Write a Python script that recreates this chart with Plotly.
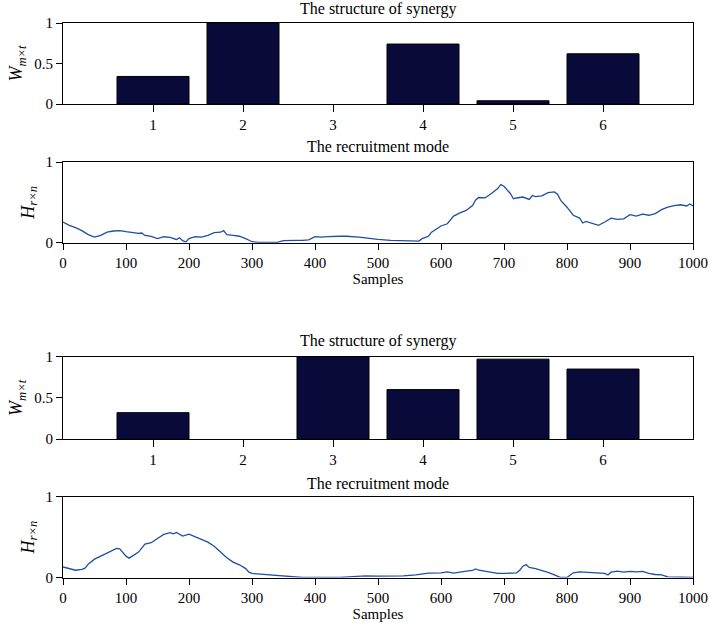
import plotly.graph_objects as go

# synergy structure (bars)
synergies = [1, 2, 3, 4, 5, 6]
w_top = [0.34, 1.0, 0.0, 0.74, 0.04, 0.62]
w_bottom = [0.32, 0.0, 1.0, 0.60, 0.97, 0.85]

# recruitment mode (lines)
h_top_x = [0, 10, 20, 30, 40, 50, 60, 70, 80, 90, 100, 110, 120, 125, 130, 140, 150, 160, 170,
           180, 185, 190, 195, 200, 210, 220, 230, 240, 250, 255, 260, 270, 280, 290, 300, 310,
           320, 330, 340, 350, 360, 370, 380, 390, 400, 410, 420, 430, 440, 450, 460, 470, 480,
           490, 500, 520, 540, 550, 560, 565, 570, 580, 585, 590, 600, 610, 615, 620, 630, 640,
           650, 655, 660, 670, 680, 690, 695, 700, 710, 715, 720, 730, 740, 745, 750, 760, 770,
           780, 785, 790, 800, 810, 820, 825, 830, 840, 850, 860, 870, 880, 890, 900, 910, 920,
           930, 940, 950, 960, 970, 980, 990, 995, 1000]
h_top_y = [0.256, 0.215, 0.186, 0.15, 0.10, 0.07, 0.09, 0.13, 0.145, 0.15, 0.136, 0.124, 0.116,
           0.12, 0.09, 0.078, 0.05, 0.074, 0.066, 0.04, 0.06, 0.025, 0.01, 0.05, 0.074, 0.07,
           0.09, 0.124, 0.13, 0.15, 0.10, 0.09, 0.08, 0.05, 0.012, 0.004, 0.004, 0.012, 0.004,
           0.025, 0.03, 0.03, 0.03, 0.035, 0.075, 0.07, 0.075, 0.08, 0.08, 0.08, 0.078, 0.07,
           0.06, 0.05, 0.04, 0.03, 0.025, 0.03, 0.02, 0.02, 0.05, 0.08, 0.13, 0.157, 0.207,
           0.235, 0.29, 0.33, 0.37, 0.40, 0.46, 0.53, 0.56, 0.555, 0.61, 0.67, 0.72, 0.70, 0.61,
           0.545, 0.554, 0.566, 0.537, 0.585, 0.57, 0.58, 0.62, 0.63, 0.60, 0.525, 0.44, 0.34,
           0.305, 0.244, 0.264, 0.24, 0.215, 0.256, 0.305, 0.29, 0.295, 0.347, 0.33, 0.355, 0.34,
           0.36, 0.41, 0.44, 0.46, 0.47, 0.455, 0.48, 0.455]

h_bot_x = [0, 10, 20, 30, 35, 40, 50, 60, 70, 80, 85, 90, 100, 105, 110, 120, 130, 140, 150, 160,
           170, 175, 180, 190, 200, 210, 220, 230, 240, 250, 260, 270, 280, 290, 295, 300, 320,
           340, 360, 380, 400, 420, 440, 460, 480, 500, 520, 540, 560, 580, 600, 610, 620, 630,
           640, 650, 655, 660, 670, 680, 690, 700, 710, 720, 725, 730, 735, 740, 750, 760, 770,
           780, 790, 800, 810, 820, 830, 840, 850, 860, 865, 870, 880, 890, 900, 910, 920, 930,
           940, 950, 960, 970, 980, 1000]
h_bot_y = [0.13, 0.107, 0.09, 0.10, 0.115, 0.165, 0.227, 0.264, 0.305, 0.34, 0.36, 0.355, 0.264,
           0.24, 0.264, 0.314, 0.413, 0.43, 0.483, 0.533, 0.554, 0.54, 0.558, 0.512, 0.537,
           0.504, 0.48, 0.438, 0.388, 0.314, 0.244, 0.19, 0.157, 0.11, 0.066, 0.05, 0.037, 0.02,
           0.012, 0.0, 0.0, 0.0, 0.0, 0.012, 0.02, 0.016, 0.016, 0.02, 0.033, 0.054, 0.058, 0.07,
           0.054, 0.07, 0.08, 0.087, 0.107, 0.09, 0.074, 0.066, 0.05, 0.05, 0.05, 0.058, 0.09,
           0.14, 0.16, 0.124, 0.11, 0.09, 0.062, 0.033, 0.0, 0.0, 0.058, 0.07, 0.066, 0.058,
           0.05, 0.05, 0.03, 0.066, 0.08, 0.066, 0.075, 0.07, 0.075, 0.05, 0.037, 0.033, 0.008,
           0.004, 0.0, 0.0]

FONT = "Liberation Serif"
BAR_COLOR = "#0a0a3a"
LINE_COLOR = "#1f4fa3"
W_TITLE = "<i>W</i><sub><i>m×t</i></sub>"
H_TITLE = "<i>H</i><sub><i>r×n</i></sub>"

def bar_marker(vals):
    # no outline on empty bars, so nothing shows above the axis there
    return dict(color=BAR_COLOR, line=dict(color="black", width=[1 if v > 0 else 0 for v in vals]))

fig = go.Figure()
fig.add_trace(go.Bar(x=synergies, y=w_top, width=0.8, marker=bar_marker(w_top),
                     xaxis="x", yaxis="y"))
fig.add_trace(go.Scatter(x=h_top_x, y=h_top_y, mode="lines", line=dict(color=LINE_COLOR, width=1.3),
                         xaxis="x2", yaxis="y2"))
fig.add_trace(go.Bar(x=synergies, y=w_bottom, width=0.8, marker=bar_marker(w_bottom),
                     xaxis="x3", yaxis="y3"))
fig.add_trace(go.Scatter(x=h_bot_x, y=h_bot_y, mode="lines", line=dict(color=LINE_COLOR, width=1.3),
                         xaxis="x4", yaxis="y4"))

xdom = [63 / 709, 693 / 709]
def ydom(top, bottom):
    return [(623 - bottom) / 623, (623 - top) / 623]

common = dict(showline=True, linecolor="black", linewidth=1, mirror=True, showgrid=False,
              zeroline=False, ticks="outside", ticklen=6, tickcolor="black", automargin=False,
              tickfont=dict(family=FONT, size=15, color="black"))

bar_x = dict(common, range=[0, 7], tickvals=synergies, domain=xdom, ticklen=7)
line_x = dict(common, range=[0, 1000], tickvals=list(range(0, 1001, 100)), domain=xdom,
              title=dict(text="Samples", font=dict(family=FONT, size=15, color="black"), standoff=2))
bar_y = dict(common, range=[0, 1], tickvals=[0, 0.5, 1],
             title=dict(text=W_TITLE, font=dict(family=FONT, size=18, color="black"), standoff=6))
line_y = dict(common, range=[0, 1], tickvals=[0, 1],
              title=dict(text=H_TITLE, font=dict(family=FONT, size=18, color="black"), standoff=6))

fig.update_layout(
    width=709, height=623, margin=dict(l=0, r=0, t=0, b=0),
    paper_bgcolor="white", plot_bgcolor="white", showlegend=False,
    font=dict(family=FONT, size=15, color="black"),
    xaxis=dict(bar_x, anchor="y"),
    yaxis=dict(bar_y, domain=ydom(23, 104), anchor="x"),
    xaxis2=dict(line_x, anchor="y2"),
    yaxis2=dict(line_y, domain=ydom(162, 242.7), anchor="x2"),
    xaxis3=dict(bar_x, anchor="y3"),
    yaxis3=dict(bar_y, domain=ydom(356.7, 439), anchor="x3"),
    xaxis4=dict(line_x, anchor="y4"),
    yaxis4=dict(line_y, domain=ydom(496.7, 577.5), anchor="x4"),
)

titles = [("The structure of synergy", 9), ("The recruitment mode", 146),
          ("The structure of synergy", 341), ("The recruitment mode", 483)]
for text, ypix in titles:
    fig.add_annotation(text=text, x=0.5 * (xdom[0] + xdom[1]), y=(623 - ypix) / 623,
                       xref="paper", yref="paper", showarrow=False, yanchor="middle",
                       font=dict(family=FONT, size=16, color="black"))

# the page body has a default margin; remove it so the figure fills the window
fig.write_html("out.html", config={"displayModeBar": False},
               post_script="document.body.style.margin='0';")
